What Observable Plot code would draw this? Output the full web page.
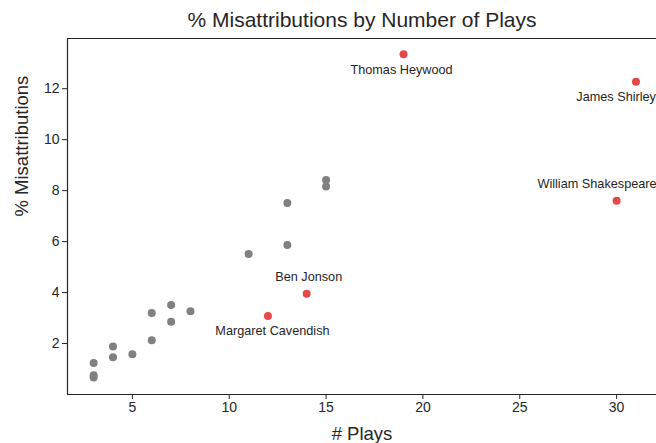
<!DOCTYPE html>
<html>
<head>
<meta charset="utf-8">
<script src="https://cdn.jsdelivr.net/npm/d3@7"></script>
<script src="https://cdn.jsdelivr.net/npm/@observablehq/plot@0.6"></script>
<style>
  body { margin: 0; background: #fff; }
  svg { font-family: "Liberation Sans", Arial, sans-serif; }
</style>
</head>
<body>
<div id="chart"></div>
<script>
// Gray (other playwrights)
const otherPlays = [3, 3, 3, 4, 4, 5, 6, 6, 7, 7, 8, 11, 13, 13, 15, 15];
const otherPct   = [1.24, 0.76, 0.67, 1.88, 1.46, 1.58, 3.2, 2.13, 3.51, 2.85, 3.27, 5.51, 5.87, 7.51, 8.42, 8.16];

// Highlighted playwrights
const names     = ["Thomas Heywood", "James Shirley", "William Shakespeare", "Ben Jonson", "Margaret Cavendish"];
const namePlays = [19, 31, 30, 14, 12];
const namePct   = [13.35, 12.27, 7.6, 3.95, 3.08];

const xTicks = [5, 10, 15, 20, 25, 30];
const yTicks = [2, 4, 6, 8, 10, 12];

const others = otherPlays.map((p, i) => ({plays: p, pct: otherPct[i]}));
const named = names.map((n, i) => ({name: n, plays: namePlays[i], pct: namePct[i]}));

const ink = "#262626";
const red = "#e34948";
const fs = 12.7;

const byName = n => named.filter(d => n.includes(d.name));

const chart = Plot.plot({
  width: 656,
  height: 443,
  marginLeft: 67,
  marginRight: 0,
  marginTop: 38,
  marginBottom: 49,
  style: {fontFamily: "'Liberation Sans', Arial, sans-serif", color: ink, background: "#fff"},
  x: {domain: [1.65, 32.06], ticks: xTicks, label: null},
  y: {domain: [0, 13.97], ticks: yTicks, label: null},
  marks: [
    Plot.axisX({ticks: xTicks, tickSize: 5, fontSize: 14, tickPadding: 3, label: null, stroke: ink}),
    Plot.axisY({ticks: yTicks, tickSize: 5, fontSize: 14, tickPadding: 3, label: null, stroke: ink}),
    Plot.ruleY([0], {stroke: ink, strokeWidth: 1.2}),
    Plot.ruleY([13.97], {stroke: ink, strokeWidth: 1.2}),
    Plot.ruleX([1.65], {stroke: ink, strokeWidth: 1.2}),
    Plot.dot(others, {x: "plays", y: "pct", r: 4, fill: "#808080", stroke: null}),
    Plot.dot(named, {x: "plays", y: "pct", r: 4, fill: red, stroke: null}),
    // labels below points
    Plot.text(byName(["Thomas Heywood"]), {x: "plays", y: "pct", text: "name", dx: -2, dy: 16, fontSize: fs, fill: ink}),
    Plot.text(byName(["Margaret Cavendish"]), {x: "plays", y: "pct", text: "name", dx: 4.5, dy: 15, fontSize: fs, fill: ink}),
    Plot.text(byName(["James Shirley"]), {x: "plays", y: "pct", text: "name", textAnchor: "end", dx: 20, dy: 15, fontSize: fs, fill: ink}),
    // labels above points
    Plot.text(byName(["William Shakespeare"]), {x: "plays", y: "pct", text: "name", textAnchor: "end", dx: 40, dy: -16.5, fontSize: fs, fill: ink}),
    Plot.text(byName(["Ben Jonson"]), {x: "plays", y: "pct", text: "name", dx: 2, dy: -17, fontSize: fs, fill: ink}),
    // titles
    Plot.text(["% Misattributions by Number of Plays"], {frameAnchor: "top", lineAnchor: "middle", dy: -18.5, fontSize: 21, fill: ink}),
    Plot.text(["# Plays"], {frameAnchor: "bottom", lineAnchor: "middle", dy: 39.5, fontSize: 18.5, fill: ink}),
    Plot.text(["% Misattributions"], {frameAnchor: "left", lineAnchor: "middle", dx: -45.5, rotate: -90, fontSize: 18.5, fill: ink})
  ]
});
document.getElementById("chart").appendChild(chart);
</script>
</body>
</html>
